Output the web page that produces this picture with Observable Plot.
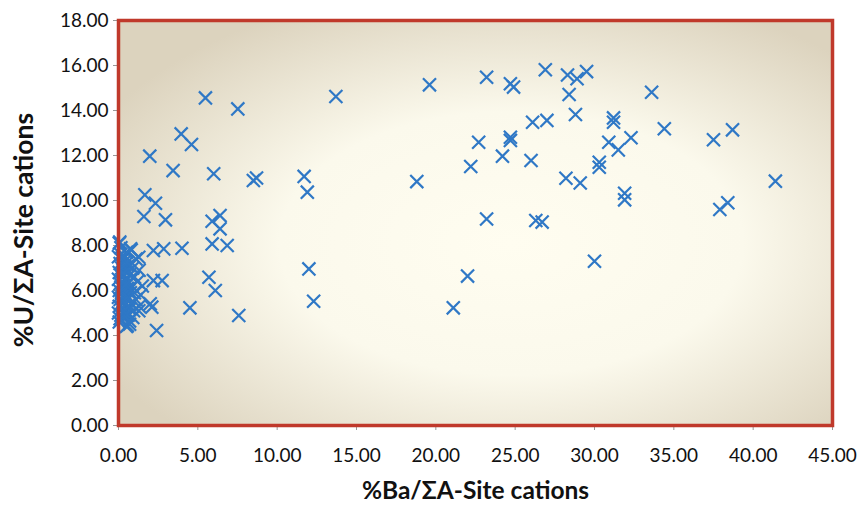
<!DOCTYPE html>
<html><head><meta charset="utf-8">
<script src="https://cdn.jsdelivr.net/npm/d3@7"></script>
<script src="https://cdn.jsdelivr.net/npm/@observablehq/plot@0.6"></script>
<style>body{margin:0;background:#fff;} </style>
</head><body><div id="chart"></div>
<script>
const xTicks = [0,5,10,15,20,25,30,35,40,45];
const yTicks = [0,2,4,6,8,10,12,14,16,18];
const xTitle = "%Ba/ΣA-Site cations";
const yTitle = "%U/ΣA-Site cations";
// %Ba values
const ba = [
 19.6,23.2,24.7,24.9,26.9,28.3,28.9,29.5,28.4,33.6,26.1,27.0,28.8,31.2,31.2,34.4,38.7,37.5,22.7,24.7,24.7,30.9,32.3,31.5,24.2,22.2,26.0,30.3,30.3,18.8,28.2,29.1,41.4,31.9,31.9,38.4,37.9,23.2,26.3,26.7,30.0,22.0,21.1,
 5.48,7.52,13.7,3.95,4.6,1.97,3.44,6.0,8.5,8.7,11.7,11.9,1.66,2.33,1.6,2.96,5.9,6.4,6.4,
 0.08,0.76,2.2,2.85,4.0,5.9,6.85,5.7,6.1,7.58,12.0,12.3,1.28,2.2,2.75,2.0,2.1,4.5,2.4,0.55,1.28,
 0.05,0.15,0.1,0.3,0.5,0.8,1.1,0.2,0.4,0.6,0.9,0.05,0.25,0.45,0.7,1.0,0.1,0.35,0.6,0.85,1.2,0.05,0.2,0.5,0.75,1.0,0.1,0.3,0.55,0.8,1.1,0.05,0.2,0.45,0.7,0.15,0.35,0.6,0.05,0.9,0.5,0.7,0.15,0.4,0.65,0.3,0.95,1.3,1.4,1.3,1.5,0.0,0.0,0.0,0.0,
 0.2,0.4,0.6,0.3,0.5,0.15,0.35,0.55,0.25,0.45,0.65,0.2,0.4,0.6,0.3,0.5,0.1,0.7,0.25,0.45,0.35,0.55
];
// %U values
const u = [
 15.14,15.48,15.19,15.04,15.81,15.58,15.41,15.73,14.71,14.81,13.48,13.56,13.82,13.67,13.48,13.19,13.14,12.70,12.59,12.81,12.67,12.59,12.79,12.25,11.97,11.51,11.78,11.70,11.48,10.84,10.99,10.78,10.86,10.32,10.03,9.90,9.60,9.18,9.11,9.04,7.30,6.64,5.23,
 14.56,14.07,14.62,12.96,12.49,11.97,11.33,11.19,10.89,11.0,11.07,10.37,10.25,9.88,9.29,9.14,9.08,9.33,8.74,
 8.15,7.85,7.78,7.85,7.88,8.07,8.0,6.59,6.0,4.89,6.96,5.52,7.48,6.44,6.44,5.41,5.26,5.23,4.22,4.44,5.1,
 8.1,7.6,7.2,7.4,7.7,7.8,7.4,7.0,6.9,7.1,7.0,6.8,6.6,6.5,6.7,6.6,6.3,6.2,6.3,6.2,6.4,6.0,5.9,5.8,5.9,5.9,5.6,5.5,5.6,5.4,5.6,5.3,5.2,5.1,5.2,4.9,4.8,4.9,4.6,4.8,4.4,4.5,7.9,7.3,6.0,5.0,5.1,5.3,5.8,6.9,6.2,5.0,5.7,6.5,7.5,
 7.15,7.05,6.85,6.75,6.45,6.15,6.05,6.1,5.75,5.7,5.65,5.45,5.35,5.3,5.05,4.95,4.75,4.65,6.35,6.25,7.55,7.25
];
const data = ba.map((b,i)=>({ba:b,u:u[i]}));
const fmt = d3.format(".2f");
const plot = Plot.plot({
  width: 861, height: 507,
  marginLeft: 118, marginRight: 29, marginTop: 20, marginBottom: 82,
  style: {fontFamily: "Lato, 'Open Sans', sans-serif", background: "#fff", overflow: "visible"},
  x: {domain: [0,45], ticks: xTicks, tickFormat: fmt},
  y: {domain: [0,18], ticks: yTicks, tickFormat: fmt},
  marks: [
    Plot.frame({fill: "url(#bgGrad)", stroke: "none"}),
    Plot.axisX({ticks: xTicks, tickFormat: fmt, tickSize: 5, tickPadding: 18, stroke: "#999", fill: "#111", fontSize: 19, label: null}),
    Plot.axisY({ticks: yTicks, tickFormat: fmt, tickSize: 5, tickPadding: 5, stroke: "#999", fill: "#111", fontSize: 19, label: null}),
    Plot.dot(data, {x: "ba", y: "u", symbol: "times", r: 6, stroke: "#2f78c6", strokeWidth: 2.2}),
    Plot.frame({stroke: "#c0392b", strokeWidth: 3.5}),
    Plot.text([xTitle], {frameAnchor: "bottom", dy: 73, fontSize: 24.5, fontWeight: "bold", fill: "#111"}),
    Plot.text([yTitle], {frameAnchor: "left", textAnchor: "middle", dx: -94, dy: 7, rotate: -90, fontSize: 26.5, fontWeight: "bold", fill: "#111"})
  ]
});
const svg = d3.select(plot);
const defs = svg.insert("defs", ":first-child");
const g = defs.append("radialGradient").attr("id","bgGrad").attr("cx","55%").attr("cy","55%").attr("r","65%");
g.append("stop").attr("offset","0%").attr("stop-color","#fffdf0");
g.append("stop").attr("offset","50%").attr("stop-color","#fbf9ec");
g.append("stop").attr("offset","100%").attr("stop-color","#dcd3be");
document.getElementById("chart").appendChild(plot);
</script></body></html>
